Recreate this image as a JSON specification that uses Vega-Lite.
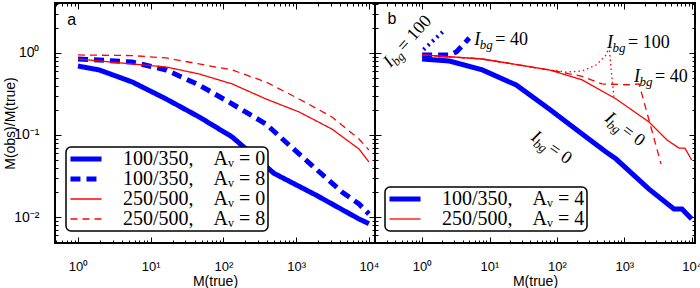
{
  "$schema": "https://vega.github.io/schema/vega-lite/v6.json",
  "padding": {"left": 2, "top": -5, "right": 0, "bottom": 0},
  "background": "white",
  "config": {
    "view": {"stroke": "black", "strokeWidth": 2},
    "axis": {"domain": false, "grid": false, "labelFont": "Liberation Sans", "labelFontSize": 14, "labelColor": "black", "titleFont": "Liberation Sans", "titleFontSize": 14, "titleFontWeight": "normal", "titleColor": "black", "tickColor": "black", "tickWidth": 1},
    "axisBottom": {"labelFontSize": 13},
    "legend": {"orient": "none", "title": null, "symbolType": "M-2.07,0H2.07", "symbolSize": 225, "symbolFillColor": "transparent", "labelFont": "Liberation Serif", "labelFontSize": 20, "labelColor": "black", "labelLimit": 400, "labelOffset": 27, "symbolOffset": 8, "padding": 2, "rowPadding": -3, "strokeColor": "black", "fillColor": "white", "cornerRadius": 5, "strokeWidth": 1.5}
  },
  "datasets": {
    "left": [
      {"s": "100/350,\u2003A\u1D65 = 0", "m": 1, "r": 0.693},
      {"s": "100/350,\u2003A\u1D65 = 0", "m": 1.96, "r": 0.621},
      {"s": "100/350,\u2003A\u1D65 = 0", "m": 5.57, "r": 0.443},
      {"s": "100/350,\u2003A\u1D65 = 0", "m": 16.3, "r": 0.275},
      {"s": "100/350,\u2003A\u1D65 = 0", "m": 46.3, "r": 0.166},
      {"s": "100/350,\u2003A\u1D65 = 0", "m": 132, "r": 0.0946},
      {"s": "100/350,\u2003A\u1D65 = 0", "m": 497, "r": 0.034},
      {"s": "100/350,\u2003A\u1D65 = 0", "m": 1875, "r": 0.0185},
      {"s": "100/350,\u2003A\u1D65 = 0", "m": 7310, "r": 0.00946},
      {"s": "100/350,\u2003A\u1D65 = 0", "m": 10000, "r": 0.0083},
      {"s": "100/350,\u2003A\u1D65 = 8", "m": 1, "r": 0.845},
      {"s": "100/350,\u2003A\u1D65 = 8", "m": 1.96, "r": 0.822},
      {"s": "100/350,\u2003A\u1D65 = 8", "m": 5.57, "r": 0.776},
      {"s": "100/350,\u2003A\u1D65 = 8", "m": 16.3, "r": 0.621},
      {"s": "100/350,\u2003A\u1D65 = 8", "m": 46.3, "r": 0.407},
      {"s": "100/350,\u2003A\u1D65 = 8", "m": 132, "r": 0.239},
      {"s": "100/350,\u2003A\u1D65 = 8", "m": 385, "r": 0.136},
      {"s": "100/350,\u2003A\u1D65 = 8", "m": 798, "r": 0.0755},
      {"s": "100/350,\u2003A\u1D65 = 8", "m": 1875, "r": 0.0385},
      {"s": "100/350,\u2003A\u1D65 = 8", "m": 4266, "r": 0.0202},
      {"s": "100/350,\u2003A\u1D65 = 8", "m": 7310, "r": 0.0144},
      {"s": "100/350,\u2003A\u1D65 = 8", "m": 10000, "r": 0.0109},
      {"s": "250/500,\u2003A\u1D65 = 0", "m": 1, "r": 0.845},
      {"s": "250/500,\u2003A\u1D65 = 0", "m": 5.57, "r": 0.735},
      {"s": "250/500,\u2003A\u1D65 = 0", "m": 16.3, "r": 0.675},
      {"s": "250/500,\u2003A\u1D65 = 0", "m": 46.3, "r": 0.555},
      {"s": "250/500,\u2003A\u1D65 = 0", "m": 132, "r": 0.419},
      {"s": "250/500,\u2003A\u1D65 = 0", "m": 385, "r": 0.275},
      {"s": "250/500,\u2003A\u1D65 = 0", "m": 1096, "r": 0.191},
      {"s": "250/500,\u2003A\u1D65 = 0", "m": 3110, "r": 0.118},
      {"s": "250/500,\u2003A\u1D65 = 0", "m": 7310, "r": 0.0675},
      {"s": "250/500,\u2003A\u1D65 = 0", "m": 10000, "r": 0.0469},
      {"s": "250/500,\u2003A\u1D65 = 8", "m": 1, "r": 0.946},
      {"s": "250/500,\u2003A\u1D65 = 8", "m": 5.57, "r": 0.93},
      {"s": "250/500,\u2003A\u1D65 = 8", "m": 16.3, "r": 0.87},
      {"s": "250/500,\u2003A\u1D65 = 8", "m": 46.3, "r": 0.735},
      {"s": "250/500,\u2003A\u1D65 = 8", "m": 132, "r": 0.621},
      {"s": "250/500,\u2003A\u1D65 = 8", "m": 385, "r": 0.443},
      {"s": "250/500,\u2003A\u1D65 = 8", "m": 1096, "r": 0.275},
      {"s": "250/500,\u2003A\u1D65 = 8", "m": 3110, "r": 0.166},
      {"s": "250/500,\u2003A\u1D65 = 8", "m": 7310, "r": 0.0893},
      {"s": "250/500,\u2003A\u1D65 = 8", "m": 10000, "r": 0.0656}
    ],
    "right": [
      {"s": "100/350,\u2003A\u1D65 = 4", "m": 1, "r": 0.845},
      {"s": "100/350,\u2003A\u1D65 = 4", "m": 2.54, "r": 0.798},
      {"s": "100/350,\u2003A\u1D65 = 4", "m": 7.82, "r": 0.621},
      {"s": "100/350,\u2003A\u1D65 = 4", "m": 24.9, "r": 0.407},
      {"s": "100/350,\u2003A\u1D65 = 4", "m": 76.9, "r": 0.207},
      {"s": "100/350,\u2003A\u1D65 = 4", "m": 237, "r": 0.103},
      {"s": "100/350,\u2003A\u1D65 = 4", "m": 537, "r": 0.0621},
      {"s": "100/350,\u2003A\u1D65 = 4", "m": 757, "r": 0.0509},
      {"s": "100/350,\u2003A\u1D65 = 4", "m": 2328, "r": 0.0219},
      {"s": "100/350,\u2003A\u1D65 = 4", "m": 5458, "r": 0.0125},
      {"s": "100/350,\u2003A\u1D65 = 4", "m": 7178, "r": 0.0125},
      {"s": "100/350,\u2003A\u1D65 = 4", "m": 10000, "r": 0.00946},
      {"s": "250/500,\u2003A\u1D65 = 4", "m": 1, "r": 0.946},
      {"s": "250/500,\u2003A\u1D65 = 4", "m": 7.82, "r": 0.845},
      {"s": "250/500,\u2003A\u1D65 = 4", "m": 76.9, "r": 0.621},
      {"s": "250/500,\u2003A\u1D65 = 4", "m": 237, "r": 0.469},
      {"s": "250/500,\u2003A\u1D65 = 4", "m": 757, "r": 0.275},
      {"s": "250/500,\u2003A\u1D65 = 4", "m": 2328, "r": 0.144},
      {"s": "250/500,\u2003A\u1D65 = 4", "m": 4305, "r": 0.0869},
      {"s": "250/500,\u2003A\u1D65 = 4", "m": 6486, "r": 0.0693},
      {"s": "250/500,\u2003A\u1D65 = 4", "m": 7943, "r": 0.0693},
      {"s": "250/500,\u2003A\u1D65 = 4", "m": 10000, "r": 0.0496},
      {"s": "b100", "m": 1.05, "r": 1.1},
      {"s": "b100", "m": 2.15, "r": 1.9},
      {"s": "b40", "m": 1, "r": 0.946},
      {"s": "b40", "m": 2.54, "r": 0.946},
      {"s": "b40", "m": 3.22, "r": 1.03},
      {"s": "b40", "m": 5.01, "r": 1.52},
      {"s": "r100", "m": 1, "r": 0.946},
      {"s": "r100", "m": 7.82, "r": 0.845},
      {"s": "r100", "m": 49.3, "r": 0.656},
      {"s": "r100", "m": 137, "r": 0.586},
      {"s": "r100", "m": 237, "r": 0.603},
      {"s": "r100", "m": 382, "r": 0.714},
      {"s": "r100", "m": 537, "r": 0.946},
      {"s": "r100", "m": 596, "r": 1.18},
      {"s": "r100", "m": 637, "r": 0.638},
      {"s": "r100", "m": 706, "r": 0.275},
      {"s": "r40", "m": 1, "r": 0.946},
      {"s": "r40", "m": 7.82, "r": 0.845},
      {"s": "r40", "m": 76.9, "r": 0.621},
      {"s": "r40", "m": 237, "r": 0.52},
      {"s": "r40", "m": 464, "r": 0.419},
      {"s": "r40", "m": 1100, "r": 0.41},
      {"s": "r40", "m": 1660, "r": 0.419},
      {"s": "r40", "m": 3508, "r": 0.0443}
    ],
    "ann": [
      {"k": "h", "m": 5.96, "r": 1.25, "v": "= 40"},
      {"k": "h", "m": 556, "r": 1.15, "v": "= 100"},
      {"k": "h", "m": 1396, "r": 0.443, "v": "= 40"},
      {"k": "a1", "m": 0.339, "r": 0.656, "v": "= 100"},
      {"k": "a2", "m": 501, "r": 0.152, "v": "= 0"},
      {"k": "a3", "m": 40.2, "r": 0.0893, "v": "= 0"}
    ],
    "one": [{"p": "a"}]
  },
  "spacing": 0,
  "bounds": "flush",
  "resolve": {"scale": {"color": "independent", "strokeDash": "independent", "strokeWidth": "independent"}, "legend": {"color": "independent", "strokeDash": "independent", "strokeWidth": "independent"}},
  "hconcat": [
    {
      "width": 320,
      "height": 240,
      "data": {"name": "left"},
      "resolve": {"axis": {"x": "independent", "y": "independent"}},
      "layer": [
        {
          "mark": {"type": "line", "clip": true},
          "encoding": {
            "x": {"field": "m", "type": "quantitative", "scale": {"type": "log", "domain": [0.483, 12130], "nice": false},
              "axis": {"orient": "bottom", "values": [0.5,0.6,0.7,0.8,0.9,1,2,3,4,5,6,7,8,9,10,20,30,40,50,60,70,80,90,100,200,300,400,500,600,700,800,900,1000,2000,3000,4000,5000,6000,7000,8000,9000,10000],
                "labelExpr": "datum.value==1?'10\u2070':datum.value==10?'10\u00b9':datum.value==100?'10\u00b2':datum.value==1000?'10\u00b3':datum.value==10000?'10\u2074':''",
                "tickSize": {"condition": {"test": "indexof([1,10,100,1000,10000], datum.value) >= 0", "value": -6}, "value": -3},
                "labelPadding": 23, "labelOverlap": false, "labelFlush": false, "title": "M(true)", "titlePadding": 0, "minExtent": 31, "maxExtent": 31}},
            "y": {"field": "r", "type": "quantitative", "scale": {"type": "log", "domain": [0.00482, 4.07], "nice": false},
              "axis": {"orient": "left", "values": [0.005,0.006,0.007,0.008,0.009,0.01,0.02,0.03,0.04,0.05,0.06,0.07,0.08,0.09,0.1,0.2,0.3,0.4,0.5,0.6,0.7,0.8,0.9,1,2,3,4],
                "labelExpr": "datum.value==1?'10\u2070':datum.value==0.1?'10\u207b\u00b9':datum.value==0.01?'10\u207b\u00b2':''",
                "tickSize": {"condition": {"test": "indexof([0.01,0.1,1], datum.value) >= 0", "value": -6}, "value": -3},
                "labelPadding": 22, "labelOverlap": false, "labelFlush": false, "title": "M(obs)/M(true)", "titlePadding": 10, "minExtent": 28, "maxExtent": 28}},
            "color": {"field": "s", "type": "nominal", "scale": {"domain": ["100/350,\u2003A\u1D65 = 0", "100/350,\u2003A\u1D65 = 8", "250/500,\u2003A\u1D65 = 0", "250/500,\u2003A\u1D65 = 8"], "range": ["#0000ff", "#0000ff", "#ff0000", "#ff0000"]}, "legend": {"legendX": 11, "legendY": 144}},
            "strokeDash": {"field": "s", "type": "nominal", "scale": {"domain": ["100/350,\u2003A\u1D65 = 0", "100/350,\u2003A\u1D65 = 8", "250/500,\u2003A\u1D65 = 0", "250/500,\u2003A\u1D65 = 8"], "range": [[1, 0], [10, 6], [1, 0], [7, 5]]}, "legend": {"legendX": 11, "legendY": 144}},
            "strokeWidth": {"field": "s", "type": "nominal", "scale": {"type": "ordinal", "domain": ["100/350,\u2003A\u1D65 = 0", "100/350,\u2003A\u1D65 = 8", "250/500,\u2003A\u1D65 = 0", "250/500,\u2003A\u1D65 = 8"], "range": [5, 5, 1.3, 1.3]}, "legend": {"legendX": 11, "legendY": 144}}
          }
        },
        {
          "mark": {"type": "line", "opacity": 0},
          "encoding": {
            "x": {"field": "m", "type": "quantitative", "axis": {"orient": "top", "values": [0.5,0.6,0.7,0.8,0.9,1,2,3,4,5,6,7,8,9,10,20,30,40,50,60,70,80,90,100,200,300,400,500,600,700,800,900,1000,2000,3000,4000,5000,6000,7000,8000,9000,10000], "labels": false, "title": null,
              "tickSize": {"condition": {"test": "indexof([1,10,100,1000,10000], datum.value) >= 0", "value": -6}, "value": -3}}},
            "y": {"field": "r", "type": "quantitative", "axis": {"orient": "right", "values": [0.005,0.006,0.007,0.008,0.009,0.01,0.02,0.03,0.04,0.05,0.06,0.07,0.08,0.09,0.1,0.2,0.3,0.4,0.5,0.6,0.7,0.8,0.9,1,2,3,4], "labels": false, "title": null,
              "tickSize": {"condition": {"test": "indexof([0.01,0.1,1], datum.value) >= 0", "value": -6}, "value": -3}}}
          }
        },
        {
          "data": {"name": "one"},
          "mark": {"type": "text", "text": "a", "font": "Liberation Sans", "fontSize": 16, "fontWeight": "normal", "align": "left", "baseline": "middle", "color": "black"},
          "encoding": {"x": {"datum": 0.713, "type": "quantitative", "axis": null}, "y": {"datum": 2.53, "type": "quantitative", "axis": null}}
        }
      ]
    },
    {
      "width": 320,
      "height": 240,
      "data": {"name": "right"},
      "resolve": {"axis": {"x": "independent", "y": "independent"}},
      "layer": [
        {
          "transform": [{"filter": "datum.s=='b100'"}],
          "mark": {"type": "line", "color": "#0000ff", "strokeWidth": 4, "strokeDash": [2, 4]},
          "encoding": {
            "x": {"field": "m", "type": "quantitative", "scale": {"type": "log", "domain": [0.2, 11200], "nice": false},
              "axis": {"orient": "bottom", "values": [0.2,0.3,0.4,0.5,0.6,0.7,0.8,0.9,1,2,3,4,5,6,7,8,9,10,20,30,40,50,60,70,80,90,100,200,300,400,500,600,700,800,900,1000,2000,3000,4000,5000,6000,7000,8000,9000,10000],
                "labelExpr": "datum.value==1?'10\u2070':datum.value==10?'10\u00b9':datum.value==100?'10\u00b2':datum.value==1000?'10\u00b3':datum.value==10000?'10\u2074':''",
                "tickSize": {"condition": {"test": "indexof([1,10,100,1000,10000], datum.value) >= 0", "value": -6}, "value": -3},
                "labelPadding": 23, "labelOverlap": false, "labelFlush": false, "title": "M(true)", "titlePadding": 0, "minExtent": 31, "maxExtent": 31}},
            "y": {"field": "r", "type": "quantitative", "scale": {"type": "log", "domain": [0.00482, 4.07], "nice": false},
              "axis": {"orient": "left", "values": [0.005,0.006,0.007,0.008,0.009,0.01,0.02,0.03,0.04,0.05,0.06,0.07,0.08,0.09,0.1,0.2,0.3,0.4,0.5,0.6,0.7,0.8,0.9,1,2,3,4], "labels": false, "title": null,
                "tickSize": {"condition": {"test": "indexof([0.01,0.1,1], datum.value) >= 0", "value": -6}, "value": -3}}}
          }
        },
        {
          "mark": {"type": "line", "opacity": 0},
          "encoding": {
            "x": {"field": "m", "type": "quantitative", "axis": {"orient": "top", "values": [0.2,0.3,0.4,0.5,0.6,0.7,0.8,0.9,1,2,3,4,5,6,7,8,9,10,20,30,40,50,60,70,80,90,100,200,300,400,500,600,700,800,900,1000,2000,3000,4000,5000,6000,7000,8000,9000,10000], "labels": false, "title": null,
              "tickSize": {"condition": {"test": "indexof([1,10,100,1000,10000], datum.value) >= 0", "value": -6}, "value": -3}}},
            "y": {"field": "r", "type": "quantitative", "axis": {"orient": "right", "values": [0.005,0.006,0.007,0.008,0.009,0.01,0.02,0.03,0.04,0.05,0.06,0.07,0.08,0.09,0.1,0.2,0.3,0.4,0.5,0.6,0.7,0.8,0.9,1,2,3,4], "labels": false, "title": null,
              "tickSize": {"condition": {"test": "indexof([0.01,0.1,1], datum.value) >= 0", "value": -6}, "value": -3}}}
          }
        },
        {
          "transform": [{"filter": "datum.s=='b40'"}],
          "mark": {"type": "line", "color": "#0000ff", "strokeWidth": 5, "strokeDash": [10, 6]},
          "encoding": {"x": {"field": "m", "type": "quantitative", "axis": null}, "y": {"field": "r", "type": "quantitative", "axis": null}}
        },
        {
          "transform": [{"filter": "datum.s!='b100' && datum.s!='b40' && datum.s!='r100' && datum.s!='r40'"}],
          "mark": {"type": "line"},
          "encoding": {
            "x": {"field": "m", "type": "quantitative", "axis": null},
            "y": {"field": "r", "type": "quantitative", "axis": null},
            "color": {"field": "s", "type": "nominal", "scale": {"domain": ["100/350,\u2003A\u1D65 = 4", "250/500,\u2003A\u1D65 = 4"], "range": ["#0000ff", "#ff0000"]}, "legend": {"legendX": 10, "legendY": 184}},
            "strokeWidth": {"field": "s", "type": "nominal", "scale": {"type": "ordinal", "domain": ["100/350,\u2003A\u1D65 = 4", "250/500,\u2003A\u1D65 = 4"], "range": [5, 1.3]}, "legend": {"legendX": 10, "legendY": 184}}
          }
        },
        {
          "transform": [{"filter": "datum.s=='r100'"}],
          "mark": {"type": "line", "color": "#ff0000", "strokeWidth": 1.3, "strokeDash": [1.5, 3]},
          "encoding": {"x": {"field": "m", "type": "quantitative", "axis": null}, "y": {"field": "r", "type": "quantitative", "axis": null}}
        },
        {
          "transform": [{"filter": "datum.s=='r40'"}],
          "mark": {"type": "line", "color": "#ff0000", "strokeWidth": 1.3, "strokeDash": [7, 5]},
          "encoding": {"x": {"field": "m", "type": "quantitative", "axis": null}, "y": {"field": "r", "type": "quantitative", "axis": null}}
        },
        {
          "data": {"name": "one"},
          "mark": {"type": "text", "text": "b", "font": "Liberation Sans", "fontSize": 16, "fontWeight": "normal", "align": "left", "baseline": "middle", "color": "black"},
          "encoding": {"x": {"datum": 0.306, "type": "quantitative", "axis": null}, "y": {"datum": 2.6, "type": "quantitative", "axis": null}}
        },
        {
          "data": {"name": "ann"},
          "transform": [{"filter": "datum.k=='h'"}],
          "encoding": {"x": {"field": "m", "type": "quantitative", "axis": null}, "y": {"field": "r", "type": "quantitative", "axis": null}},
          "layer": [
            {"mark": {"type": "text", "text": "I", "font": "Liberation Serif", "fontStyle": "italic", "fontSize": 18, "align": "left", "baseline": "alphabetic", "color": "black"}},
            {"mark": {"type": "text", "text": "bg", "font": "Liberation Serif", "fontStyle": "italic", "fontSize": 13, "align": "left", "baseline": "alphabetic", "dx": 5.5, "dy": 4, "color": "black"}},
            {"mark": {"type": "text", "font": "Liberation Serif", "fontSize": 18, "align": "left", "baseline": "alphabetic", "dx": 21, "color": "black"}, "encoding": {"text": {"field": "v"}}}
          ]
        },
        {
          "data": {"name": "ann"},
          "transform": [{"filter": "datum.k=='a1'"}],
          "encoding": {"x": {"field": "m", "type": "quantitative", "axis": null}, "y": {"field": "r", "type": "quantitative", "axis": null}},
          "layer": [
            {"mark": {"type": "text", "text": "I", "font": "Liberation Serif", "fontStyle": "italic", "fontSize": 18, "align": "left", "baseline": "alphabetic", "angle": -48, "color": "black"}},
            {"mark": {"type": "text", "text": "bg", "font": "Liberation Serif", "fontStyle": "italic", "fontSize": 13, "align": "left", "baseline": "alphabetic", "dx": 5.5, "dy": 4, "angle": -48, "color": "black"}},
            {"mark": {"type": "text", "font": "Liberation Serif", "fontSize": 18, "align": "left", "baseline": "alphabetic", "dx": 21, "angle": -48, "color": "black"}, "encoding": {"text": {"field": "v"}}}
          ]
        },
        {
          "data": {"name": "ann"},
          "transform": [{"filter": "datum.k=='a2'"}],
          "encoding": {"x": {"field": "m", "type": "quantitative", "axis": null}, "y": {"field": "r", "type": "quantitative", "axis": null}},
          "layer": [
            {"mark": {"type": "text", "text": "I", "font": "Liberation Serif", "fontStyle": "italic", "fontSize": 18, "align": "left", "baseline": "alphabetic", "angle": 37, "color": "black"}},
            {"mark": {"type": "text", "text": "bg", "font": "Liberation Serif", "fontStyle": "italic", "fontSize": 13, "align": "left", "baseline": "alphabetic", "dx": 5.5, "dy": 4, "angle": 37, "color": "black"}},
            {"mark": {"type": "text", "font": "Liberation Serif", "fontSize": 18, "align": "left", "baseline": "alphabetic", "dx": 21, "angle": 37, "color": "black"}, "encoding": {"text": {"field": "v"}}}
          ]
        },
        {
          "data": {"name": "ann"},
          "transform": [{"filter": "datum.k=='a3'"}],
          "encoding": {"x": {"field": "m", "type": "quantitative", "axis": null}, "y": {"field": "r", "type": "quantitative", "axis": null}},
          "layer": [
            {"mark": {"type": "text", "text": "I", "font": "Liberation Serif", "fontStyle": "italic", "fontSize": 18, "align": "left", "baseline": "alphabetic", "angle": 35, "color": "black"}},
            {"mark": {"type": "text", "text": "bg", "font": "Liberation Serif", "fontStyle": "italic", "fontSize": 13, "align": "left", "baseline": "alphabetic", "dx": 5.5, "dy": 4, "angle": 35, "color": "black"}},
            {"mark": {"type": "text", "font": "Liberation Serif", "fontSize": 18, "align": "left", "baseline": "alphabetic", "dx": 21, "angle": 35, "color": "black"}, "encoding": {"text": {"field": "v"}}}
          ]
        }
      ]
    }
  ]
}
